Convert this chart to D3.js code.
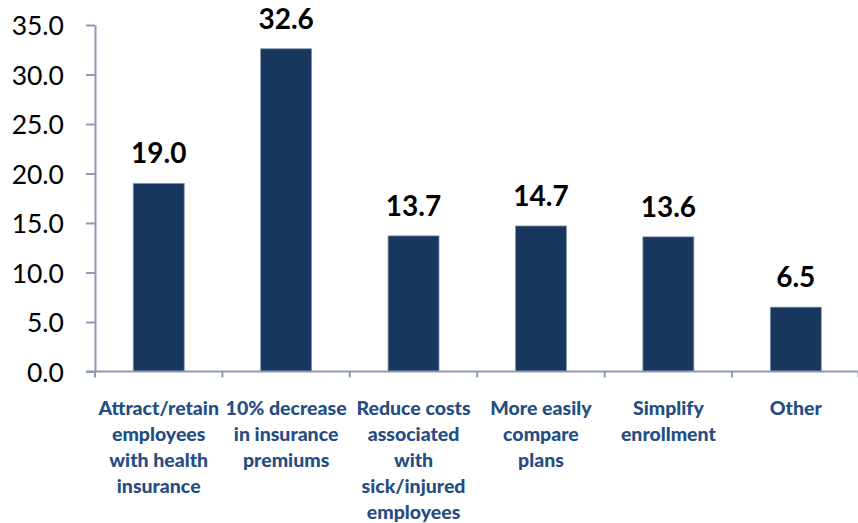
<!DOCTYPE html>
<html>
<head>
<meta charset="utf-8">
<script src="https://cdn.jsdelivr.net/npm/d3@7"></script>
<style>
  html, body { margin: 0; padding: 0; background: #ffffff; }
  svg { display: block; }
</style>
</head>
<body>
<svg id="chart" width="858" height="523"></svg>
<script>
// Reasons cited, percent of respondents
const categories = [
  ["Attract/retain", "employees", "with health", "insurance"],
  ["10% decrease", "in insurance", "premiums"],
  ["Reduce costs", "associated", "with", "sick/injured", "employees"],
  ["More easily", "compare", "plans"],
  ["Simplify", "enrollment"],
  ["Other"]
];
const values = [19.0, 32.6, 13.7, 14.7, 13.6, 6.5];
const yTicks = [0, 5, 10, 15, 20, 25, 30, 35];

const svg = d3.select("#chart");
const plotLeft = 95, plotRight = 859.5, plotTop = 25, plotBottom = 371.5;

const keys = categories.map((c, i) => i);
const x = d3.scaleBand().domain(keys).range([plotLeft, plotRight]).paddingInner(0.6).paddingOuter(0.3);
const xTick = d3.scaleBand().domain(keys).range([plotLeft, plotRight]);
const y = d3.scaleLinear().domain([0, 35]).range([plotBottom, plotTop]);

const axisColor = "#8e9ab4";

// Y axis
const yAxis = svg.append("g")
  .attr("transform", `translate(${plotLeft},0)`)
  .call(d3.axisLeft(y).tickValues(yTicks).tickFormat(d3.format(".1f")).tickSize(9).tickSizeOuter(0).tickPadding(22));
yAxis.select(".domain").attr("stroke", axisColor).attr("stroke-width", 2);
yAxis.selectAll(".tick line").attr("stroke", axisColor).attr("stroke-width", 2);
yAxis.selectAll(".tick text")
  .attr("fill", "#000")
  .attr("dy", "0.36em")
  .style("font-family", "Lato, sans-serif")
  .style("font-size", "26.5px");

// Bars
svg.append("g").selectAll("rect")
  .data(values)
  .join("rect")
  .attr("x", (d, i) => x(i))
  .attr("width", x.bandwidth())
  .attr("y", d => y(d))
  .attr("height", d => y(0) - y(d))
  .attr("fill", "#17375e")
  .attr("stroke", "#8496b0")
  .attr("stroke-width", 0.8);

// X axis with ticks at category boundaries
const xg = svg.append("g");
xg.append("line")
  .attr("x1", plotLeft - 9).attr("x2", plotRight)
  .attr("y1", plotBottom).attr("y2", plotBottom)
  .attr("stroke", axisColor).attr("stroke-width", 2);
xg.selectAll("line.tk")
  .data(keys.concat([keys.length]))
  .join("line")
  .attr("class", "tk")
  .attr("x1", i => i < keys.length ? xTick(i) : plotRight - 1)
  .attr("x2", i => i < keys.length ? xTick(i) : plotRight - 1)
  .attr("y1", plotBottom).attr("y2", plotBottom + 6)
  .attr("stroke", axisColor).attr("stroke-width", 2);

// Value labels
svg.append("g").selectAll("text")
  .data(values)
  .join("text")
  .attr("x", (d, i) => x(i) + x.bandwidth() / 2)
  .attr("y", d => y(d) - 20)
  .attr("text-anchor", "middle")
  .attr("fill", "#000")
  .style("font-family", "Lato, sans-serif")
  .style("font-weight", "bold")
  .style("font-size", "28px")
  .text(d => d3.format(".1f")(d));

// Category labels
const cat = svg.append("g").selectAll("text")
  .data(categories)
  .join("text")
  .attr("x", (d, i) => x(i) + x.bandwidth() / 2)
  .attr("y", 415)
  .attr("text-anchor", "middle")
  .attr("fill", "#244d82")
  .style("font-family", "Lato, sans-serif")
  .style("font-weight", "900")
  .style("font-size", "19.5px");
cat.selectAll("tspan")
  .data(d => d)
  .join("tspan")
  .attr("x", function() { return d3.select(this.parentNode).attr("x"); })
  .attr("dy", (d, i) => i === 0 ? 0 : 26)
  .text(d => d);
</script>
</body>
</html>
